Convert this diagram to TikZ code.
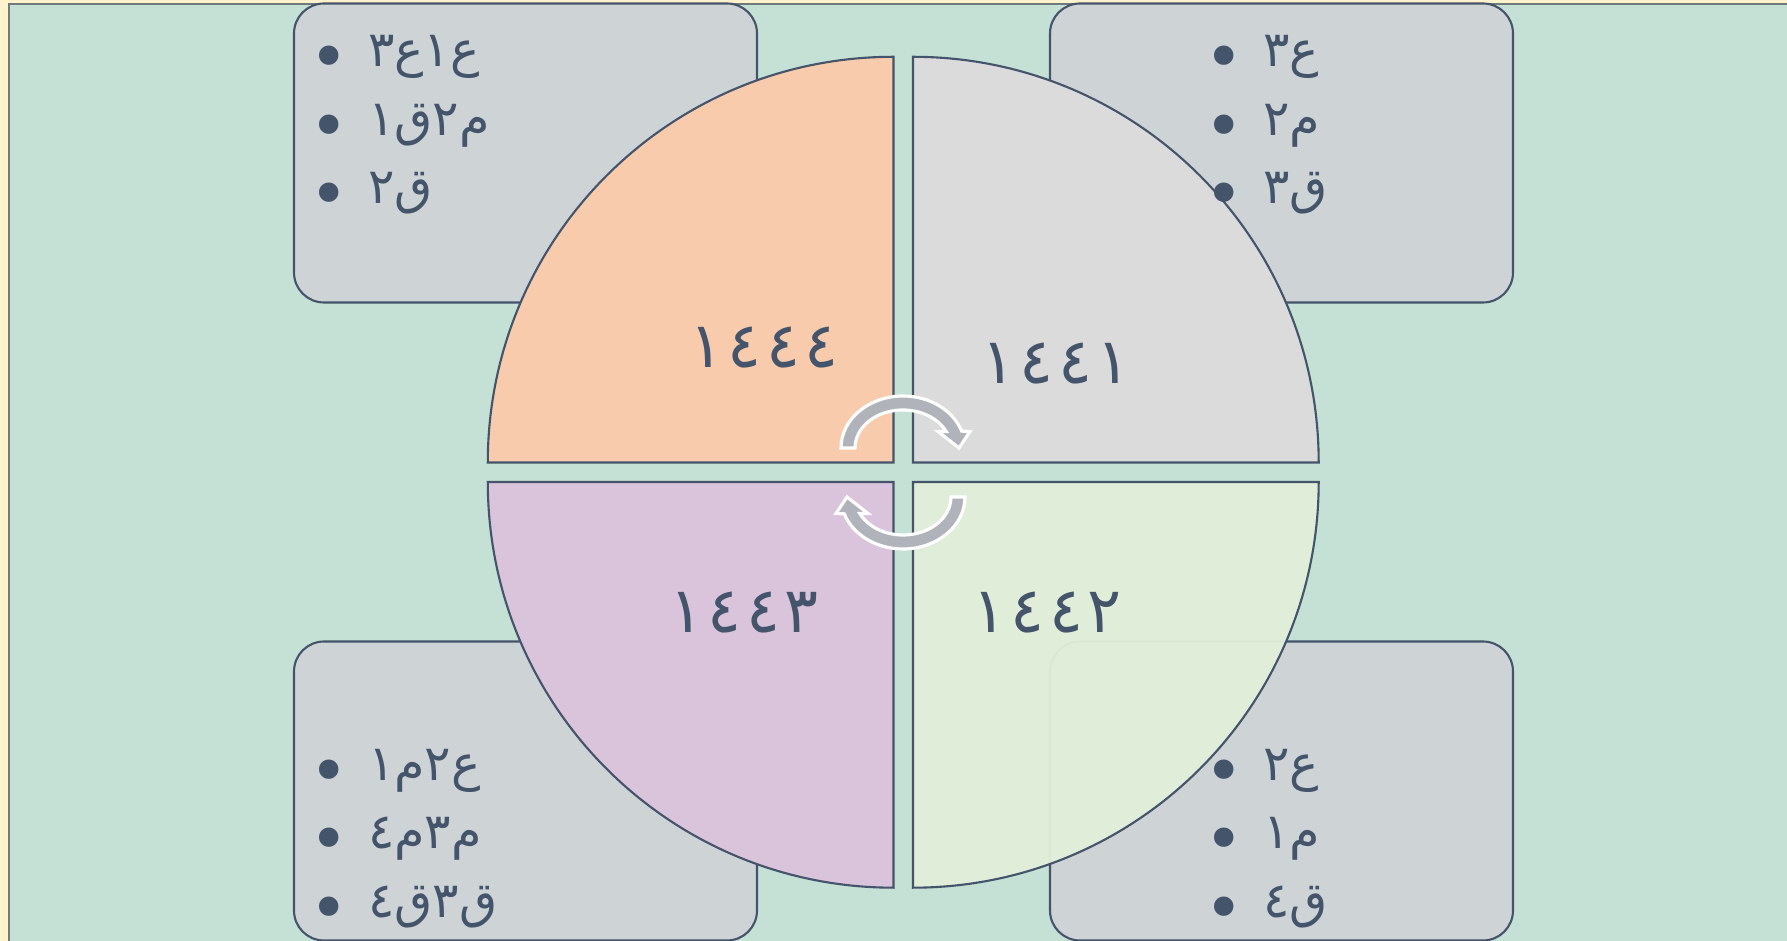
\documentclass[tikz,border=0pt]{standalone}
\usepackage{fontspec}
\usepackage{xcolor}
\usepackage{tikz}
\usetikzlibrary{calc}
\newfontfamily\arabicfont[Script=Arabic]{DejaVu Sans}
\TeXXeTstate=1
\definecolor{pagebg}{HTML}{FFF2CC}
\definecolor{slide}{HTML}{C5E0D4}
\definecolor{slideline}{HTML}{6F7B78}
\definecolor{ink}{HTML}{44546A}
\definecolor{cardbg}{HTML}{CED3D6}
\definecolor{qorange}{HTML}{F8CBAD}
\definecolor{qgrey}{HTML}{DBDBDB}
\definecolor{qviolet}{HTML}{D9C4DC}
\definecolor{qgreen}{HTML}{E2EFDA}
\definecolor{turngrey}{HTML}{B0B3BA}
\newcommand{\dotmark}{\raisebox{-1.4mm}{\fontsize{19}{19}\selectfont•}\hspace{1.9mm}}
\newcommand{\yr}[4]{#1\hspace{1.2pt}#2\hspace{1.2pt}#3\hspace{1.2pt}#4}

\begin{document}
\begin{tikzpicture}[x=0.1mm,y=-0.1mm,
  card/.style={draw=ink,fill=cardbg,rounded corners=3mm,line width=0.6pt,
               minimum width=46.3mm,minimum height=29.9mm,inner sep=0pt},
  quarter/.style={draw=ink,line width=0.6pt},
  entry/.style={anchor=base west,inner sep=0pt,text=ink,
                font=\arabicfont\fontsize{14}{16}\selectfont},
  year/.style={inner sep=0pt,text=ink,font=\arabicfont\fontsize{18}{20}\selectfont},
  turn/.style={fill=turngrey,draw=white,line width=0.9pt}
]
\useasboundingbox (0,0) rectangle (1787,941);
\fill[pagebg] (0,0) rectangle (1787,941);
\path[fill=slide,draw=slideline,line width=0.6pt] (9,4) rectangle (1800,960);

\node[card] (tlcard) at (525.5,153) {};
\node[card] (trcard) at (1281.5,153) {};
\node[card] (blcard) at (525.5,791) {};
\node[card] (brcard) at (1281.5,791) {};

\path[quarter,fill=qorange] (893.5,462.5) -- (487.8,462.5)
  arc[start angle=180,end angle=270,radius=405.7] -- cycle;
\path[quarter,fill=qgrey] (913,462.5) -- (913,56.8)
  arc[start angle=270,end angle=360,radius=405.7] -- cycle;
\path[quarter,fill=qgreen,fill opacity=0.95] (913,482) -- (1318.7,482)
  arc[start angle=0,end angle=90,radius=405.7] -- cycle;
\path[quarter,fill=qviolet] (893.5,482) -- (893.5,887.7)
  arc[start angle=90,end angle=180,radius=405.7] -- cycle;

\begin{scope}[shift={(903,448)}]
  \path[turn] (-62,0) arc[start angle=180,end angle=341.1,x radius=62,y radius=52]
    -- (67,-16.5) -- (56,0) -- (35,-16.5) -- (43.2,-16.5)
    arc[start angle=334.3,end angle=180,x radius=48,y radius=38] -- cycle;
\end{scope}
\begin{scope}[shift={(903,497)},rotate=180]
  \path[turn] (-62,0) arc[start angle=180,end angle=341.1,x radius=62,y radius=52]
    -- (67,-16.5) -- (56,0) -- (35,-16.5) -- (43.2,-16.5)
    arc[start angle=334.3,end angle=180,x radius=48,y radius=38] -- cycle;
\end{scope}

\node[year] (y1444) at (764,348) {\yr{١}{٤}{٤}{٤}};
\node[year] (y1441) at (1056,364) {\yr{١}{٤}{٤}{١}};
\node[year] (y1443) at (744,613) {\yr{١}{٤}{٤}{٣}};
\node[year] (y1442) at (1047,613) {\yr{١}{٤}{٤}{٢}};

\node[entry] (tl1) at (309,67) {\dotmark\beginR ع١ع٣\endR};
\node[entry] (tl2) at (309,136) {\dotmark\beginR م٢ق١\endR};
\node[entry] (tl3) at (309,204) {\dotmark\beginR ق٢\endR};
\node[entry] (tr1) at (1204,67) {\dotmark\beginR ع٣\endR};
\node[entry] (tr2) at (1204,136) {\dotmark\beginR م٢\endR};
\node[entry] (tr3) at (1204,204) {\dotmark\beginR ق٣\endR};
\node[entry] (bl1) at (309,781) {\dotmark\beginR ع٢م١\endR};
\node[entry] (bl2) at (309,849) {\dotmark\beginR م٣م٤\endR};
\node[entry] (bl3) at (309,918) {\dotmark\beginR ق٣ق٤\endR};
\node[entry] (br1) at (1204,781) {\dotmark\beginR ع٢\endR};
\node[entry] (br2) at (1204,849) {\dotmark\beginR م١\endR};
\node[entry] (br3) at (1204,918) {\dotmark\beginR ق٤\endR};
\end{tikzpicture}
\end{document}
